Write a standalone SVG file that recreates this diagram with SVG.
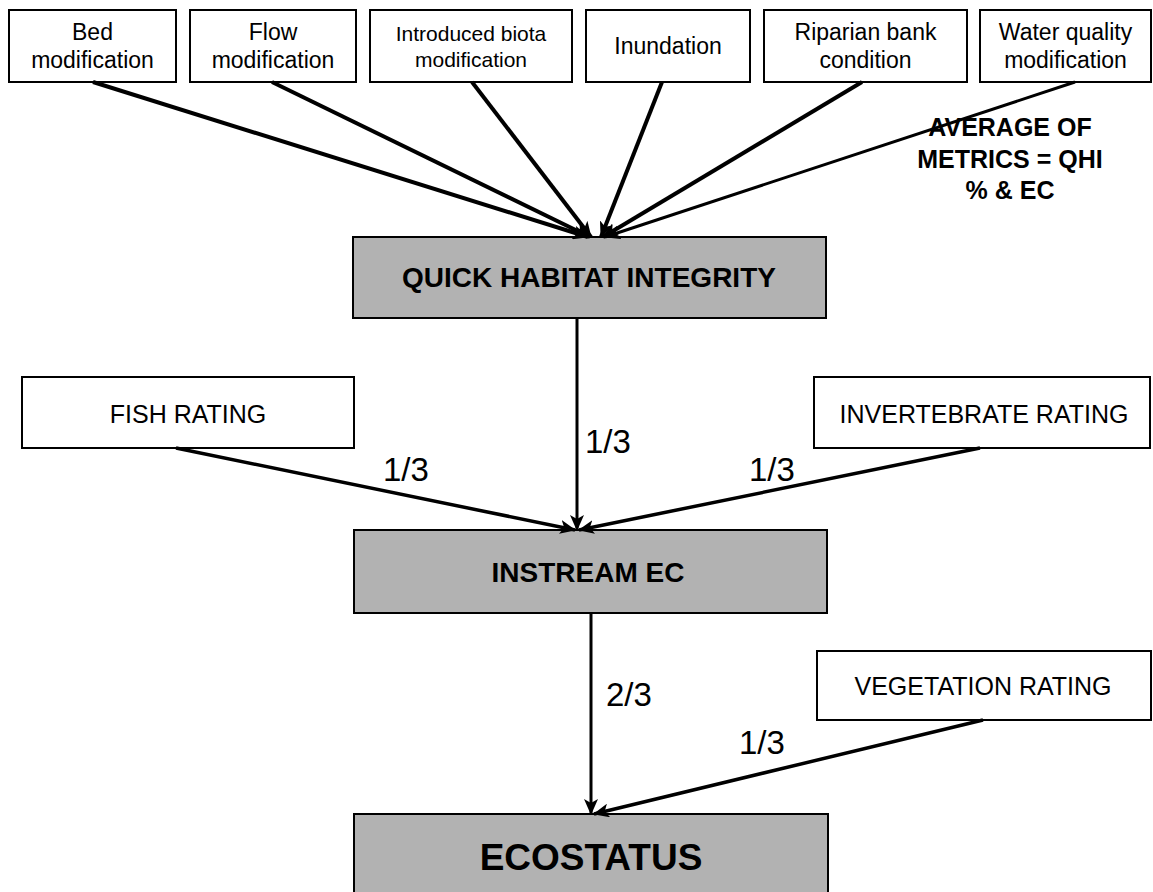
<svg xmlns="http://www.w3.org/2000/svg" width="1153" height="892" viewBox="0 0 1153 892">
<style>
.box{fill:#fff;stroke:#000;stroke-width:2}
.gbox{fill:#b2b2b2;stroke:#000;stroke-width:2}
.t{font-family:"Liberation Sans",Arial,sans-serif;fill:#000;text-anchor:middle}
.s{font-size:23px}
.s2{font-size:21px}
.r{font-size:25px}
.b{font-size:28px;font-weight:bold}
.avg{font-size:25px;font-weight:bold}
.lab{font-family:"Liberation Sans",Arial,sans-serif;font-size:33px;fill:#000}
.c{stroke:#000;fill:none}
</style>
<defs>
<marker id="ah" markerWidth="16" markerHeight="14" refX="15" refY="7" orient="auto" markerUnits="userSpaceOnUse">
<path d="M0,0 L16,7 L0,14 L4,7 Z" fill="#000"/>
</marker>
</defs>
<rect width="1153" height="892" fill="#fff"/>
<g id="bed"><rect class="box" x="9" y="10" width="167" height="72"/><text class="t s" x="92.5" y="40">Bed</text><text class="t s" x="92.5" y="68">modification</text></g>
<g id="flow"><rect class="box" x="190" y="10" width="166" height="72"/><text class="t s" x="273" y="40">Flow</text><text class="t s" x="273" y="68">modification</text></g>
<g id="biota"><rect class="box" x="370" y="10" width="202" height="72"/><text class="t s2" x="471" y="41">Introduced biota</text><text class="t s2" x="471" y="67">modification</text></g>
<g id="inundation"><rect class="box" x="586" y="10" width="164" height="72"/><text class="t s" x="668" y="54">Inundation</text></g>
<g id="riparian"><rect class="box" x="764" y="10" width="203" height="72"/><text class="t s" x="865.5" y="40">Riparian bank</text><text class="t s" x="865.5" y="68">condition</text></g>
<g id="water"><rect class="box" x="980" y="10" width="171" height="72"/><text class="t s" x="1065.5" y="40">Water quality</text><text class="t s" x="1065.5" y="68">modification</text></g>
<g id="avg"><text class="t avg" x="1010" y="136">AVERAGE OF</text><text class="t avg" x="1010" y="168">METRICS = QHI</text><text class="t avg" x="1010" y="199">% &amp; EC</text></g>
<g id="qhi"><rect class="gbox" x="353" y="237" width="473" height="81"/><text class="t b" x="589" y="287">QUICK HABITAT INTEGRITY</text></g>
<g id="fish"><rect class="box" x="22" y="377" width="332" height="71"/><text class="t r" x="188" y="423">FISH RATING</text></g>
<g id="invert"><rect class="box" x="814" y="377" width="336" height="71"/><text class="t r" x="984" y="423">INVERTEBRATE RATING</text></g>
<g id="instream"><rect class="gbox" x="354" y="530" width="473" height="83"/><text class="t b" x="588" y="582">INSTREAM EC</text></g>
<g id="veg"><rect class="box" x="817" y="651" width="334" height="69"/><text class="t r" x="983" y="695">VEGETATION RATING</text></g>
<g id="eco"><rect class="gbox" x="354" y="814" width="474" height="90"/><text class="t" style="font-size:37px;font-weight:bold" x="591" y="870">ECOSTATUS</text></g>
<g id="connectors">
<line class="c" stroke-width="4" x1="93" y1="82" x2="588" y2="237" marker-end="url(#ah)"/>
<line class="c" stroke-width="4" x1="272" y1="82" x2="590" y2="237" marker-end="url(#ah)"/>
<line class="c" stroke-width="4" x1="472" y1="82" x2="591" y2="237" marker-end="url(#ah)"/>
<line class="c" stroke-width="4" x1="662" y1="82" x2="601" y2="237" marker-end="url(#ah)"/>
<line class="c" stroke-width="4" x1="862" y1="82" x2="603" y2="237" marker-end="url(#ah)"/>
<line class="c" stroke-width="3" x1="1075" y1="82" x2="605" y2="237" marker-end="url(#ah)"/>
<line class="c" stroke-width="3" x1="577" y1="318" x2="577" y2="530" marker-end="url(#ah)"/>
<line class="c" stroke-width="3.5" x1="176" y1="448" x2="575" y2="530" marker-end="url(#ah)"/>
<line class="c" stroke-width="3.5" x1="980" y1="448" x2="579" y2="530" marker-end="url(#ah)"/>
<line class="c" stroke-width="3" x1="591" y1="613" x2="591" y2="814" marker-end="url(#ah)"/>
<line class="c" stroke-width="3.5" x1="983" y1="720" x2="594" y2="814" marker-end="url(#ah)"/>
</g>
<g id="labels">
<text class="lab" x="585" y="453">1/3</text>
<text class="lab" x="383" y="481">1/3</text>
<text class="lab" x="749" y="481">1/3</text>
<text class="lab" x="606" y="706">2/3</text>
<text class="lab" x="739" y="754">1/3</text>
</g>
</svg>
